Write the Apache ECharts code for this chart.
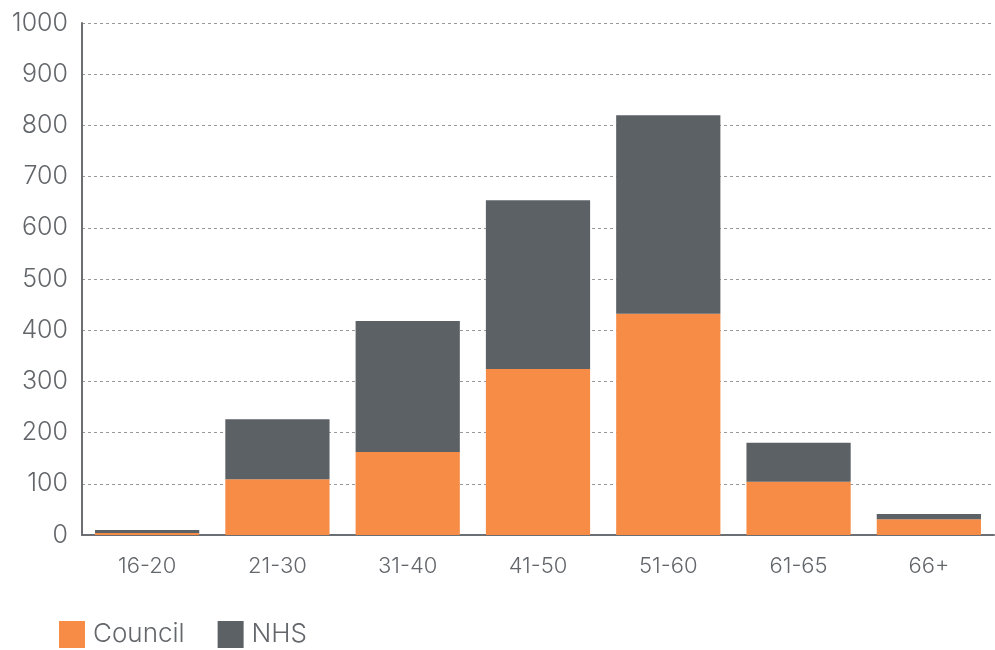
<!DOCTYPE html>
<html>
<head>
<meta charset="utf-8">
<script src="https://cdn.jsdelivr.net/npm/echarts@6/dist/echarts.min.js"></script>
<style>
  html, body { margin: 0; padding: 0; background: #fff; }
  #chart { width: 995px; height: 650px; }
</style>
</head>
<body>
<div id="chart"></div>
<script>
let ageGroups = ['16-20', '21-30', '31-40', '41-50', '51-60', '61-65', '66+'];
let councilValues = [4, 109, 162, 324, 432, 104, 31];
let nhsValues = [6, 117, 256, 330, 388, 76, 10];

let chartDom = document.getElementById('chart');
let chart = echarts.init(chartDom);
let option;

let textColor = '#63666a';
let fontFamily = 'Inter, sans-serif';

option = {
  animation: false,
  color: ['#f68c46', '#5c6166'],
  legend: {
    left: 59,
    top: 621,
    padding: 0,
    itemWidth: 26,
    itemHeight: 27,
    itemGap: 33,
    icon: 'rect',
    textStyle: {
      color: textColor,
      fontSize: 26,
      fontWeight: 300,
      fontFamily: fontFamily,
      padding: [0, 0, 0, 3]
    },
    data: ['Council', 'NHS']
  },
  grid: {
    left: 82,
    right: 1,
    top: 23,
    bottom: 115
  },
  xAxis: {
    type: 'category',
    data: ageGroups,
    axisLine: { lineStyle: { color: '#6b6e72', width: 2 } },
    axisTick: { show: false },
    axisLabel: {
      color: textColor,
      fontSize: 22,
      fontWeight: 300,
      fontFamily: fontFamily,
      margin: 20
    }
  },
  yAxis: {
    type: 'value',
    min: 0,
    max: 1000,
    interval: 100,
    axisLine: { show: true, lineStyle: { color: '#6b6e72', width: 2 } },
    axisTick: { show: false },
    axisLabel: {
      color: textColor,
      fontSize: 25,
      fontWeight: 300,
      fontFamily: fontFamily,
      margin: 14,
      formatter: function (v) { return String(v); }
    },
    splitLine: {
      lineStyle: { color: '#999', type: [3, 3], width: 1 }
    }
  },
  series: [
    {
      name: 'Council',
      type: 'bar',
      stack: 'total',
      barCategoryGap: '20%',
      data: councilValues
    },
    {
      name: 'NHS',
      type: 'bar',
      stack: 'total',
      barCategoryGap: '20%',
      data: nhsValues
    }
  ]
};

option && chart.setOption(option);
</script>
</body>
</html>
